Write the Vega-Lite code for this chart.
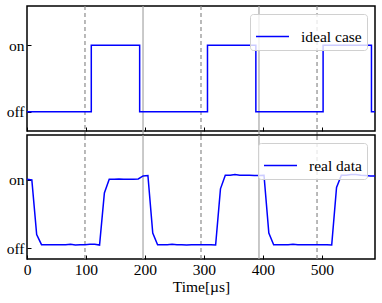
{
  "$schema": "https://vega.github.io/schema/vega-lite/v6.json",
  "padding": {"left": 5, "top": 4, "right": 5, "bottom": 5},
  "background": "white",
  "spacing": 4,
  "bounds": "flush",
  "datasets": {
    "grid": [
      {"t": 98.3, "kind": "dashed"},
      {"t": 196.7, "kind": "solid"},
      {"t": 295, "kind": "dashed"},
      {"t": 393.3, "kind": "solid"},
      {"t": 491.7, "kind": "dashed"}
    ],
    "ideal": [
      {"t": 0, "v": 0, "series": "ideal case"},
      {"t": 109, "v": 1, "series": "ideal case"},
      {"t": 191, "v": 0, "series": "ideal case"},
      {"t": 306, "v": 1, "series": "ideal case"},
      {"t": 388, "v": 0, "series": "ideal case"},
      {"t": 502, "v": 1, "series": "ideal case"},
      {"t": 584, "v": 0, "series": "ideal case"},
      {"t": 590, "v": 0, "series": "ideal case"}
    ],
    "real": [
      {"t": 0, "v": 1.01, "series": "real data"},
      {"t": 8.2, "v": 1.0, "series": "real data"},
      {"t": 16.4, "v": 0.2, "series": "real data"},
      {"t": 24.6, "v": 0.05, "series": "real data"},
      {"t": 32.8, "v": 0.05, "series": "real data"},
      {"t": 41, "v": 0.05, "series": "real data"},
      {"t": 49.2, "v": 0.05, "series": "real data"},
      {"t": 57.4, "v": 0.05, "series": "real data"},
      {"t": 65.6, "v": 0.05, "series": "real data"},
      {"t": 73.8, "v": 0.055, "series": "real data"},
      {"t": 82, "v": 0.045, "series": "real data"},
      {"t": 90.2, "v": 0.05, "series": "real data"},
      {"t": 98.4, "v": 0.05, "series": "real data"},
      {"t": 106.6, "v": 0.055, "series": "real data"},
      {"t": 114.8, "v": 0.055, "series": "real data"},
      {"t": 123, "v": 0.045, "series": "real data"},
      {"t": 131.2, "v": 0.81, "series": "real data"},
      {"t": 139.4, "v": 1.01, "series": "real data"},
      {"t": 147.6, "v": 1.01, "series": "real data"},
      {"t": 155.8, "v": 1.015, "series": "real data"},
      {"t": 164, "v": 1.01, "series": "real data"},
      {"t": 172.2, "v": 1.01, "series": "real data"},
      {"t": 180.4, "v": 1.01, "series": "real data"},
      {"t": 188.6, "v": 1.015, "series": "real data"},
      {"t": 196.8, "v": 1.06, "series": "real data"},
      {"t": 205, "v": 1.065, "series": "real data"},
      {"t": 213.2, "v": 0.22, "series": "real data"},
      {"t": 221.4, "v": 0.05, "series": "real data"},
      {"t": 229.6, "v": 0.05, "series": "real data"},
      {"t": 237.8, "v": 0.05, "series": "real data"},
      {"t": 246, "v": 0.055, "series": "real data"},
      {"t": 254.2, "v": 0.05, "series": "real data"},
      {"t": 262.4, "v": 0.05, "series": "real data"},
      {"t": 270.6, "v": 0.045, "series": "real data"},
      {"t": 278.8, "v": 0.05, "series": "real data"},
      {"t": 287, "v": 0.05, "series": "real data"},
      {"t": 295.2, "v": 0.05, "series": "real data"},
      {"t": 303.4, "v": 0.05, "series": "real data"},
      {"t": 311.6, "v": 0.05, "series": "real data"},
      {"t": 319.8, "v": 0.045, "series": "real data"},
      {"t": 328, "v": 0.87, "series": "real data"},
      {"t": 336.2, "v": 1.07, "series": "real data"},
      {"t": 344.4, "v": 1.07, "series": "real data"},
      {"t": 352.6, "v": 1.08, "series": "real data"},
      {"t": 360.8, "v": 1.07, "series": "real data"},
      {"t": 369, "v": 1.07, "series": "real data"},
      {"t": 377.2, "v": 1.07, "series": "real data"},
      {"t": 385.4, "v": 1.065, "series": "real data"},
      {"t": 393.6, "v": 1.065, "series": "real data"},
      {"t": 401.8, "v": 1.07, "series": "real data"},
      {"t": 410, "v": 0.22, "series": "real data"},
      {"t": 418.2, "v": 0.05, "series": "real data"},
      {"t": 426.4, "v": 0.05, "series": "real data"},
      {"t": 434.6, "v": 0.05, "series": "real data"},
      {"t": 442.8, "v": 0.05, "series": "real data"},
      {"t": 451, "v": 0.055, "series": "real data"},
      {"t": 459.2, "v": 0.05, "series": "real data"},
      {"t": 467.4, "v": 0.05, "series": "real data"},
      {"t": 475.6, "v": 0.05, "series": "real data"},
      {"t": 483.8, "v": 0.05, "series": "real data"},
      {"t": 492, "v": 0.05, "series": "real data"},
      {"t": 500.2, "v": 0.05, "series": "real data"},
      {"t": 508.4, "v": 0.05, "series": "real data"},
      {"t": 516.6, "v": 0.045, "series": "real data"},
      {"t": 524.8, "v": 0.89, "series": "real data"},
      {"t": 533, "v": 1.07, "series": "real data"},
      {"t": 541.2, "v": 1.07, "series": "real data"},
      {"t": 549.4, "v": 1.08, "series": "real data"},
      {"t": 557.6, "v": 1.08, "series": "real data"},
      {"t": 565.8, "v": 1.07, "series": "real data"},
      {"t": 574, "v": 1.065, "series": "real data"},
      {"t": 582.2, "v": 1.06, "series": "real data"},
      {"t": 590, "v": 1.06, "series": "real data"}
    ]
  },
  "vconcat": [
    {
      "width": 348,
      "height": 125,
      "layer": [
        {
          "data": {"name": "grid"},
          "mark": {"type": "rule", "strokeWidth": 1.2},
          "encoding": {
            "x": {"field": "t", "type": "quantitative", "scale": {"domain": [0, 590]}},
            "y": {"datum": 1.59, "type": "quantitative"},
            "y2": {"datum": -0.36},
            "stroke": {"field": "kind", "type": "nominal", "scale": {"domain": ["dashed", "solid"], "range": ["#8c8c8c", "#a6a6a6"]}, "legend": null},
            "strokeDash": {"field": "kind", "type": "nominal", "scale": {"domain": ["dashed", "solid"], "range": [[4, 3], [1, 0]]}, "legend": null}
          }
        },
        {
          "data": {"name": "ideal"},
          "mark": {"type": "line", "interpolate": "step-after", "strokeWidth": 1.5, "clip": true},
          "encoding": {
            "x": {
              "field": "t", "type": "quantitative",
              "scale": {"domain": [0, 590], "nice": false, "zero": false},
              "axis": {"values": [0, 100, 200, 300, 400, 500], "labels": false, "title": null}
            },
            "y": {
              "field": "v", "type": "quantitative",
              "scale": {"domain": [-0.29, 1.59], "nice": false, "zero": false},
              "axis": {"values": [0, 1], "labelExpr": "datum.value == 1 ? 'on' : 'off'", "title": null}
            },
            "color": {
              "field": "series", "type": "nominal",
              "scale": {"domain": ["ideal case"], "range": ["#0000ff"]},
              "legend": {"title": null}
            }
          }
        }
      ],
      "resolve": {"scale": {"stroke": "independent", "color": "independent"}}
    },
    {
      "width": 348,
      "height": 124,
      "layer": [
        {
          "data": {"name": "grid"},
          "mark": {"type": "rule", "strokeWidth": 1.2},
          "encoding": {
            "x": {"field": "t", "type": "quantitative", "scale": {"domain": [0, 590]}},
            "y": {"datum": -0.16, "type": "quantitative"},
            "y2": {"datum": 1.66},
            "stroke": {"field": "kind", "type": "nominal", "scale": {"domain": ["dashed", "solid"], "range": ["#8c8c8c", "#a6a6a6"]}, "legend": null},
            "strokeDash": {"field": "kind", "type": "nominal", "scale": {"domain": ["dashed", "solid"], "range": [[4, 3], [1, 0]]}, "legend": null}
          }
        },
        {
          "data": {"name": "real"},
          "mark": {"type": "line", "strokeWidth": 1.5, "clip": true},
          "encoding": {
            "x": {
              "field": "t", "type": "quantitative",
              "scale": {"domain": [0, 590], "nice": false, "zero": false},
              "axis": {"values": [0, 100, 200, 300, 400, 500], "title": "Time[µs]", "titlePadding": 2}
            },
            "y": {
              "field": "v", "type": "quantitative",
              "scale": {"domain": [-0.16, 1.66], "nice": false, "zero": false},
              "axis": {"values": [0, 1], "labelExpr": "datum.value == 1 ? 'on' : 'off'", "title": null}
            },
            "color": {
              "field": "series", "type": "nominal",
              "scale": {"domain": ["real data"], "range": ["#0000ff"]},
              "legend": {"title": null}
            }
          }
        }
      ],
      "resolve": {"scale": {"stroke": "independent", "color": "independent"}}
    }
  ],
  "resolve": {"scale": {"color": "independent", "stroke": "independent", "strokeDash": "independent"}, "legend": {"color": "independent"}},
  "config": {
    "font": "'Liberation Serif', serif",
    "view": {"stroke": "black", "strokeWidth": 1.5},
    "axis": {
      "domain": false,
      "grid": false,
      "tickColor": "black",
      "tickSize": -4,
      "tickWidth": 1,
      "labelPadding": 7,
      "labelFont": "'Liberation Serif', serif",
      "titleFont": "'Liberation Serif', serif",
      "labelFontSize": 15.5,
      "labelColor": "black",
      "labelFlush": false,
      "labelOverlap": false,
      "titleFontSize": 15.5,
      "titleFontWeight": "normal",
      "titleColor": "black"
    },
    "legend": {
      "orient": "top-right",
      "offset": 8,
      "strokeColor": "#d0d0d0",
      "fillColor": "rgba(255,255,255,0.8)",
      "cornerRadius": 3,
      "padding": 5,
      "labelFontSize": 15.5,
      "labelColor": "black",
      "labelFont": "'Liberation Serif', serif",
      "symbolType": "stroke",
      "symbolStrokeWidth": 1.5,
      "symbolSize": 1089,
      "labelOffset": 11
    }
  }
}
